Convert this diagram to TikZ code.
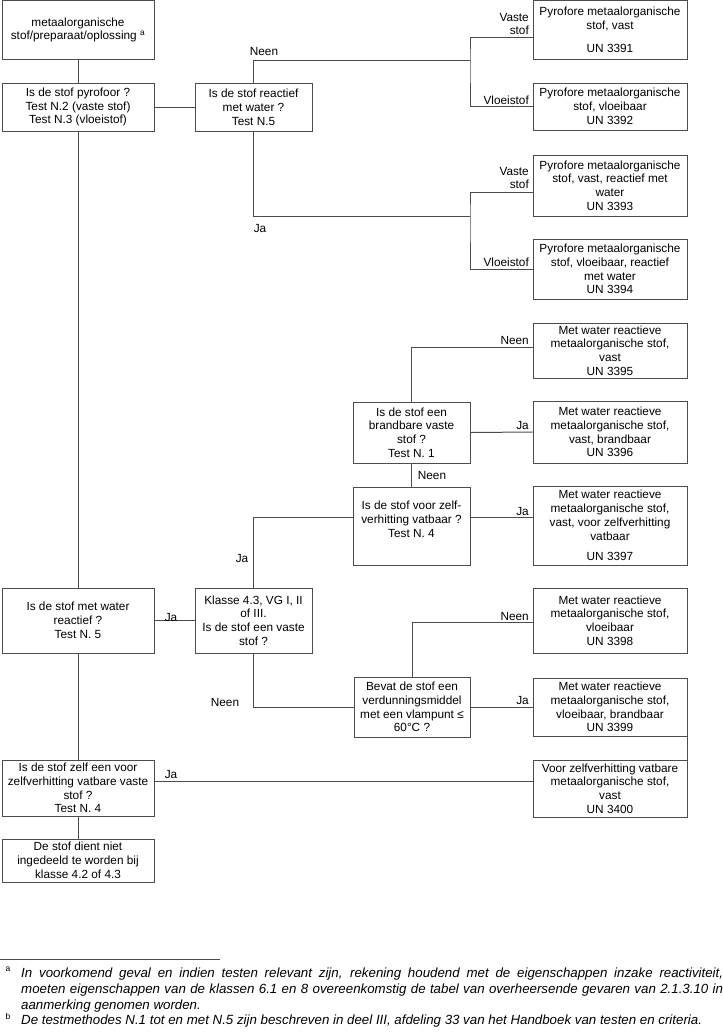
\documentclass[tikz,border=0pt]{standalone}
\usepackage{fontspec}
\setmainfont{Liberation Sans}
\newcommand{\boxfont}{\fontsize{11.8}{13.8}\selectfont}
\newcommand{\notefont}{\fontsize{13.3}{15.8}\selectfont\itshape}
\definecolor{linec}{gray}{0.3}
\begin{document}
\begin{tikzpicture}[x=1pt,y=-1pt,
  box/.style={draw=linec,line width=1pt,inner sep=0pt,align=center,font=\boxfont},
  lbox/.style={box,minimum width=152pt},
  mbox/.style={box,minimum width=117pt},
  rbox/.style={box,minimum width=154pt},
  lbl/.style={inner sep=0pt,align=right,font=\boxfont},
  conn/.style={draw=linec,line width=1pt},
  fmark/.style={inner sep=0pt,font=\fontsize{8.5}{8.5}\selectfont},
  fnote/.style={inner sep=0pt,text width=702pt,align=justify,font=\notefont}]
  \useasboundingbox (0,0) rectangle (723,1034);

  %左の列
  \node[lbox,minimum height=59pt] (start) at (78,30) {metaalorganische\\stof/preparaat/oplossing \textsuperscript{a}};
  \node[lbox,minimum height=48pt] (pyro) at (78,107) {Is de stof pyrofoor ?\\Test N.2 (vaste stof)\\Test N.3 (vloeistof)};
  \node[lbox,minimum height=65pt] (isw) at (78,620.5) {Is de stof met water\\reactief ?\\Test N. 5};
  \node[lbox,minimum height=56pt] (zvb) at (78,788) {Is de stof zelf een voor\\zelfverhitting vatbare vaste\\stof ?\\Test N. 4};
  \node[lbox,minimum height=43pt] (niet) at (78,860.5) {De stof dient niet\\ingedeeld te worden bij\\klasse 4.2 of 4.3};

  %真ん中の列
  \node[mbox,minimum height=48pt] (react) at (253.5,107) {Is de stof reactief\\met water ?\\Test N.5};
  \node[mbox,minimum height=65pt] (klas) at (253.5,620.5) {Klasse 4.3, VG I, II\\of III.\\Is de stof een vaste\\stof ?};
  \node[mbox,minimum height=61pt] (brand) at (411.5,432.5) {Is de stof een\\brandbare vaste\\stof ?\\Test N. 1};
  \node[mbox,minimum height=78pt] (zelf) at (411.5,526) {Is de stof voor zelf-\\verhitting vatbaar ?\\Test N. 4\\ \mbox{}};
  \node[mbox,minimum width=116pt,minimum height=60pt] (verd) at (412,707) {Bevat de stof een\\verdunningsmiddel\\met een vlampunt ≤\\60°C ?};

  %右の列
  \node[rbox,minimum height=59pt] (un3391) at (610,30) {Pyrofore metaalorganische\\stof, vast\\[9pt]UN 3391};
  \node[rbox,minimum height=47pt] (un3392) at (610,106.5) {Pyrofore metaalorganische\\stof, vloeibaar\\UN 3392};
  \node[rbox,minimum height=61pt] (un3393) at (610,185.5) {Pyrofore metaalorganische\\stof, vast, reactief met\\water\\UN 3393};
  \node[rbox,minimum height=60pt] (un3394) at (610,269) {Pyrofore metaalorganische\\stof, vloeibaar, reactief\\met water\\UN 3394};
  \node[rbox,minimum height=55pt] (un3395) at (610,350.5) {Met water reactieve\\metaalorganische stof,\\vast\\UN 3395};
  \node[rbox,minimum height=62pt] (un3396) at (610,432) {Met water reactieve\\metaalorganische stof,\\vast, brandbaar\\UN 3396};
  \node[rbox,minimum height=79pt] (un3397) at (610,525.5) {Met water reactieve\\metaalorganische stof,\\vast, voor zelfverhitting\\vatbaar\\[7pt]UN 3397};
  \node[rbox,minimum height=65pt] (un3398) at (610,620.5) {Met water reactieve\\metaalorganische stof,\\vloeibaar\\UN 3398};
  \node[rbox,minimum height=58pt] (un3399) at (610,707) {Met water reactieve\\metaalorganische stof,\\vloeibaar, brandbaar\\UN 3399};
  \node[rbox,minimum height=57pt] (un3400) at (610,788.5) {Voor zelfverhitting vatbare\\metaalorganische stof,\\vast\\UN 3400};

  %分岐点
  \coordinate (s1) at (470,60);
  \coordinate (s2) at (470,216);

  %線
  \draw[conn] (start.south) -- (pyro.north);
  \draw[conn] (pyro.east) -- (react.west);
  \draw[conn] (react.north) |- (s1);
  \draw[conn] ([yshift=-7pt]un3391.west) -| (s1) |- (un3392.west); %Neen
  \draw[conn] (react.south) |- (s2);
  \draw[conn] ([yshift=-6.5pt]un3393.west) -| (s2) |- (un3394.west); %Ja
  \draw[conn] (pyro.south) -- (isw.north);
  \draw[conn] (isw.east) -- (isw.east -| klas.west);
  \draw[conn] (klas.north) |- ([yshift=9pt]zelf.west);
  \draw[conn] ([yshift=9pt]zelf.east) -- ([yshift=9pt]zelf.east -| un3397.west);
  \draw[conn] (brand.south) -- (zelf.north);
  \draw[conn] (brand.east) -- (un3396.west);
  \draw[conn] (brand.north) |- ([yshift=3.5pt]un3395.west);
  \draw[conn] (klas.south) |- (verd.west);
  \draw[conn] (verd.east) -- (un3399.west);
  \draw[conn] (verd.north) |- ([yshift=-2pt]un3398.west);
  \draw[conn] (un3399.south east) -- (un3400.north east);
  \draw[conn] (isw.south) -- (zvb.north);
  \draw[conn] ([yshift=7pt]zvb.east) -- ([yshift=7pt]zvb.east -| un3400.west);
  \draw[conn] (zvb.south) -- (niet.north);

  %ラベル
  \node[lbl] (neen1) at (264,51) {Neen};
  \node[lbl,anchor=east] (vast1) at (529,24) {Vaste\\stof};
  \node[lbl,anchor=east] (vloei1) at (529,100) {Vloeistof};
  \node[lbl] (ja1) at (260,228) {Ja};
  \node[lbl,anchor=east] (vast2) at (529,178) {Vaste\\stof};
  \node[lbl,anchor=east] (vloei2) at (529,262) {Vloeistof};
  \node[lbl,anchor=east] (neen2) at (529,340) {Neen};
  \node[lbl,anchor=east] (ja2) at (529,425) {Ja};
  \node[lbl] (neen3) at (432,475) {Neen};
  \node[lbl,anchor=east] (ja3) at (529,511) {Ja};
  \node[lbl] (ja4) at (242,558) {Ja};
  \node[lbl] (ja5) at (171,617) {Ja};
  \node[lbl,anchor=east] (neen5) at (529,616) {Neen};
  \node[lbl] (neen4) at (225,702) {Neen};
  \node[lbl,anchor=east] (ja6) at (529,700) {Ja};
  \node[lbl] (ja7) at (171,774) {Ja};

  %脚注
  \draw[draw=linec,line width=0.8pt] (0,959) -- (220,959);
  \node[fmark] (fa) at (8,969) {a};
  \node[fnote,anchor=north west] (fta) at (21,968) {In voorkomend geval en indien testen relevant zijn, rekening houdend met de eigenschappen inzake reactiviteit,\linebreak moeten eigenschappen van de klassen 6.1 en 8 overeenkomstig de tabel van overheersende gevaren van 2.1.3.10 in\linebreak aanmerking genomen worden.};
  \node[fmark] (fb) at (8,1016) {b};
  \node[fnote,anchor=north west] (ftb) at (21,1015) {De testmethodes N.1 tot en met N.5 zijn beschreven in deel III, afdeling 33 van het Handboek van testen en criteria.};
\end{tikzpicture}
\end{document}
